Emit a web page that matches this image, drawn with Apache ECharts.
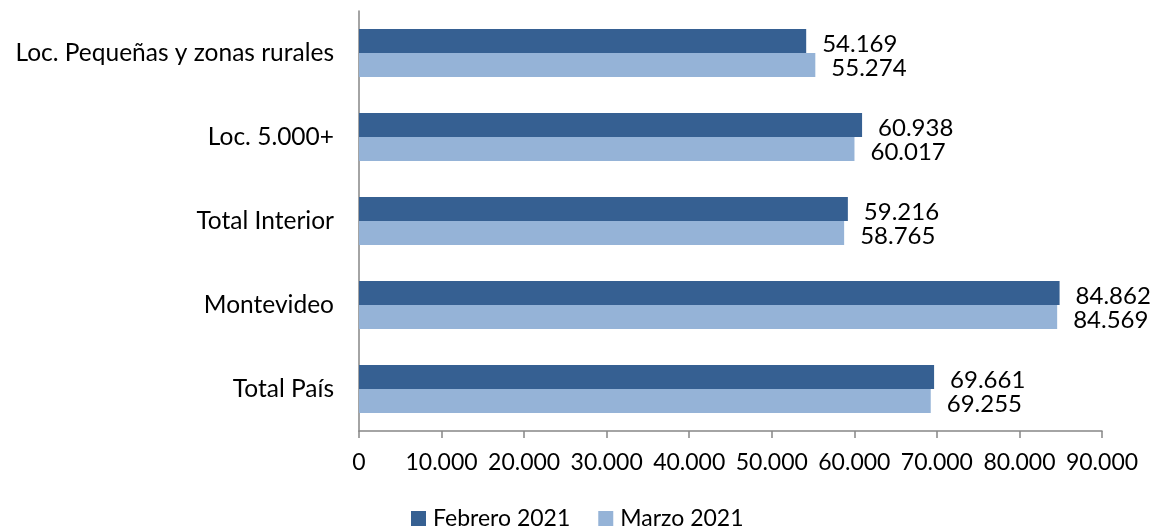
<!DOCTYPE html>
<html>
<head>
<meta charset="utf-8">
<script src="https://cdn.jsdelivr.net/npm/echarts@6/dist/echarts.min.js"></script>
<style>html,body{margin:0;padding:0;background:#fff}#c{width:1152px;height:531px}</style>
</head>
<body>
<div id="c"></div>
<script>
const categories = ['Loc. Pequeñas y zonas rurales', 'Loc. 5.000+', 'Total Interior', 'Montevideo', 'Total País'];
const seriesNames = ['Febrero 2021', 'Marzo 2021'];
const febrero = [54169, 60938, 59216, 84862, 69661];
const marzo = [55274, 60017, 58765, 84569, 69255];
const xTicks = [0, 10000, 20000, 30000, 40000, 50000, 60000, 70000, 80000, 90000];

function fmt(v) {
  return String(Math.round(v)).replace(/\B(?=(\d{3})+(?!\d))/g, '.');
}
const FONT = 'Lato, "Open Sans", sans-serif';
const chart = echarts.init(document.getElementById('c'));
chart.setOption({
  animation: false,
  backgroundColor: '#fff',
  grid: { left: 359, right: 50, top: 11, bottom: 100, containLabel: false },
  legend: {
    top: 507, left: 411,
    padding: 0,
    itemWidth: 15, itemHeight: 15, itemGap: 28,
    icon: 'rect',
    textStyle: { fontFamily: FONT, fontSize: 23, color: '#000', padding: [0, 0, 0, 2] },
    data: seriesNames
  },
  xAxis: {
    type: 'value', min: xTicks[0], max: xTicks[xTicks.length - 1], interval: 10000,
    axisLine: { show: true, lineStyle: { color: '#868686', width: 1.5 } },
    axisTick: { show: true, length: 7, lineStyle: { color: '#868686', width: 1.5 } },
    splitLine: { show: false },
    axisLabel: { margin: 20, fontFamily: FONT, fontSize: 23, color: '#000', formatter: fmt }
  },
  yAxis: {
    type: 'category', inverse: true, data: categories,
    axisLine: { show: true, lineStyle: { color: '#868686', width: 1.5 } },
    axisTick: { show: false },
    axisLabel: { margin: 25, fontFamily: FONT, fontSize: 24.5, color: '#000' }
  },
  series: [
    {
      name: seriesNames[0], type: 'bar', data: febrero, barWidth: 24, barGap: '0%',
      itemStyle: { color: '#366092' },
      label: { show: true, position: 'right', distance: 16, offset: [0, 3], fontFamily: FONT, fontSize: 24, color: '#000', formatter: p => fmt(p.value) }
    },
    {
      name: seriesNames[1], type: 'bar', data: marzo, barWidth: 24, barGap: '0%',
      itemStyle: { color: '#95B3D7' },
      label: { show: true, position: 'right', distance: 16, offset: [0, 3], fontFamily: FONT, fontSize: 24, color: '#000', formatter: p => fmt(p.value) }
    }
  ]
});
</script>
</body>
</html>
